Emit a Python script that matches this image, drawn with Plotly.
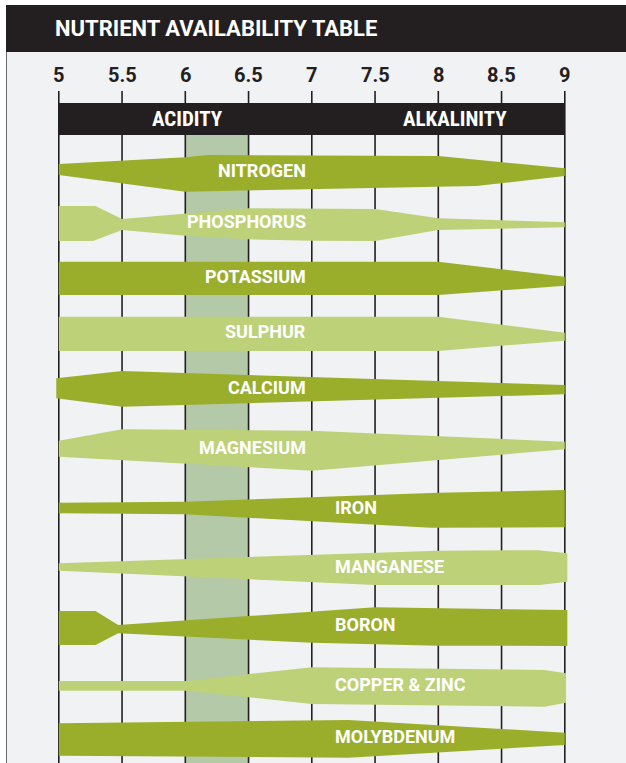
import numpy as np
import plotly.graph_objects as go

# ---------------- data ----------------
TITLE = "NUTRIENT AVAILABILITY TABLE"
PH_TICKS = [5, 5.5, 6, 6.5, 7, 7.5, 8, 8.5, 9]
TICK_LABELS = ["5", "5.5", "6", "6.5", "7", "7.5", "8", "8.5", "9"]
ZONE_LABELS = ["ACIDITY", "ALKALINITY"]
ZONE_LABEL_PH = [6.02, 8.13]
OPTIMAL_RANGE = [6.0, 6.5]

NUTRIENTS = ["NITROGEN", "PHOSPHORUS", "POTASSIUM", "SULPHUR", "CALCIUM",
             "MAGNESIUM", "IRON", "MANGANESE", "BORON", "COPPER & ZINC",
             "MOLYBDENUM"]

# availability profiles: (pH, thickness above / below the row line)
NITROGEN_TOP = [(5.0, 7.5), (6.0, 14.2), (6.18, 16.5), (8.0, 15.5), (9.0, 3.2)]
NITROGEN_BOT = [(5.0, 3.5), (6.0, 20.2), (8.3, 14.5), (9.0, 4.5)]
PHOSPHORUS_TOP = [(5.0, 22.2), (5.29, 22.2), (5.5, 9.2), (6.5, 19.9), (7.5, 19.2), (8.0, 9.9), (9.0, 5.9)]
PHOSPHORUS_BOT = [(5.0, 12.9), (5.27, 12.9), (5.5, 1.9), (6.0, 7.6), (6.5, 11.2), (7.0, 12.6), (7.5, 12.9), (8.0, 1.9), (9.0, -0.9)]
POTASSIUM_TOP = [(5.0, 23.1), (8.0, 23.1), (9.0, 8.1)]
POTASSIUM_BOT = [(5.0, 10.2), (8.0, 10.2), (9.0, 0.9)]
SULPHUR_TOP = [(5.0, 24.8), (8.0, 24.8), (9.0, 8.8)]
SULPHUR_BOT = [(5.0, 9.5), (8.0, 9.5), (9.0, -0.8)]
CALCIUM_TOP = [(4.98, 19.8), (5.5, 27.1), (9.0, 13.1)]
CALCIUM_BOT = [(4.98, 0.2), (5.5, 8.6), (9.0, -3.8)]
MAGNESIUM_TOP = [(5.0, 14.1), (5.5, 25.5), (7.0, 24.1), (9.0, 13.1)]
MAGNESIUM_BOT = [(5.0, 1.9), (7.0, 15.9), (9.0, -5.5)]
IRON_TOP = [(5.0, 8.7), (6.0, 9.7), (8.0, 18.7), (9.0, 21.4)]
IRON_BOT = [(5.0, 1.9), (6.0, 2.9), (7.94, 16.3), (9.0, 15.9)]
MANGANESE_TOP = [(5.0, 4.8), (8.0, 17.4), (8.79, 17.8), (9.02, 14.8)]
MANGANESE_BOT = [(5.0, 2.6), (7.5, 16.9), (8.8, 16.9), (9.02, 13.6)]
BORON_TOP = [(5.0, 13.7), (5.29, 13.7), (5.47, -0.3), (7.5, 17.4), (9.02, 14.7)]
BORON_BOT = [(5.0, 20.3), (5.29, 20.3), (5.47, 8.6), (7.0, 18.1), (8.0, 21.0), (9.02, 21.3)]
COPPER_ZINC_TOP = [(5.0, 0.4), (6.0, 0.4), (7.0, 14.1), (8.84, 11.4), (9.01, 8.1)]
COPPER_ZINC_BOT = [(5.0, 9.3), (6.0, 9.3), (7.0, 22.6), (8.84, 25.3), (9.01, 21.3)]
MOLYBDENUM_TOP = [(5.0, 14.7), (7.29, 18.0), (9.0, 5.3)]
MOLYBDENUM_BOT = [(5.0, 17.7), (7.29, 19.7), (9.0, 7.0)]

PROFILES = [
    (NITROGEN_TOP, NITROGEN_BOT), (PHOSPHORUS_TOP, PHOSPHORUS_BOT),
    (POTASSIUM_TOP, POTASSIUM_BOT), (SULPHUR_TOP, SULPHUR_BOT),
    (CALCIUM_TOP, CALCIUM_BOT), (MAGNESIUM_TOP, MAGNESIUM_BOT),
    (IRON_TOP, IRON_BOT), (MANGANESE_TOP, MANGANESE_BOT),
    (BORON_TOP, BORON_BOT), (COPPER_ZINC_TOP, COPPER_ZINC_BOT),
    (MOLYBDENUM_TOP, MOLYBDENUM_BOT),
]

# ---------------- style / layout ----------------
W, H = 626, 763
DARK = "#9aae2c"
LIGHT = "#bdd178"
BAND = "#b3c9a7"
INK = "#231f20"
PANEL = "#f1f2f4"
FONT = "Roboto, Liberation Sans, Arial, sans-serif"
NARROW = "Roboto Condensed, Liberation Sans Narrow, Arial Narrow, Roboto, sans-serif"

PX_PER_PH = 126.5
X0_PX = 58.8
ROW_PX = 56.65
ROW0_PX = 171.5
x_range = [5 - X0_PX / PX_PER_PH, 5 + (W - X0_PX) / PX_PER_PH]
y_range = [(H - ROW0_PX) / ROW_PX, -ROW0_PX / ROW_PX]


def py(px):
    """pixel row from top -> paper y"""
    return 1 - px / H


def px_x(px):
    return px / W


fig = go.Figure()

for i, (name, (top, bot)) in enumerate(zip(NUTRIENTS, PROFILES)):
    tph = [p for p, _ in top]
    tv = [i - v / ROW_PX for _, v in top]
    bph = [p for p, _ in bot]
    bv = [i + v / ROW_PX for _, v in bot]
    xs = tph + bph[::-1]
    ys = tv + bv[::-1]
    color = DARK if i % 2 == 0 else LIGHT
    fig.add_trace(go.Scatter(
        x=xs, y=ys, mode="lines", fill="toself", fillcolor=color,
        line=dict(width=0, color=color), hoverinfo="skip", showlegend=False))
    # label
    if i < 6:
        lx, anchor, probe = 6.97, "right", 6.6
    else:
        lx, anchor, probe = 7.17, "left", 7.6
    yt = np.interp(probe, tph, tv)
    yb = np.interp(probe, bph, bv)
    fig.add_annotation(
        x=lx, y=(yt + yb) / 2, xref="x", yref="y", text=name, showarrow=False,
        xanchor=anchor, yanchor="middle", yshift=2,
        font=dict(family=FONT, size=18, color="white", weight="bold"))

shapes = []
# title bar and panel
shapes.append(dict(type="rect", xref="paper", yref="paper",
                   x0=px_x(6), x1=1, y0=py(763), y1=py(52),
                   fillcolor=PANEL, line=dict(width=0), layer="below"))
shapes.append(dict(type="line", xref="paper", yref="paper",
                   x0=px_x(6.5), x1=px_x(6.5), y0=0, y1=py(52),
                   line=dict(color="#6b6b6b", width=1), layer="below"))
shapes.append(dict(type="rect", xref="paper", yref="paper",
                   x0=px_x(6), x1=1, y0=py(52), y1=py(5),
                   fillcolor=INK, line=dict(width=0), layer="below"))
# optimum band
shapes.append(dict(type="rect", xref="x", yref="paper",
                   x0=OPTIMAL_RANGE[0], x1=OPTIMAL_RANGE[1], y0=0, y1=py(135),
                   fillcolor=BAND, line=dict(width=0), layer="below"))
# grid lines
for t in PH_TICKS:
    shapes.append(dict(type="line", xref="x", yref="paper",
                       x0=t, x1=t, y0=0, y1=py(91),
                       line=dict(color=INK, width=1.6), layer="below"))
# header bar
shapes.append(dict(type="rect", xref="x", yref="paper",
                   x0=PH_TICKS[0], x1=PH_TICKS[-1], y0=py(135), y1=py(103),
                   fillcolor=INK, line=dict(width=0), layer="below"))

# texts
fig.add_annotation(x=px_x(53), y=py(28), xref="paper", yref="paper",
                   text=TITLE, showarrow=False, xanchor="left", yanchor="middle",
                   font=dict(family=FONT, size=22, color="white", weight="bold"))
for t, lab in zip(PH_TICKS, TICK_LABELS):
    fig.add_annotation(x=t, y=py(75), xref="x", yref="paper", text=lab,
                       showarrow=False, xanchor="center", yanchor="middle",
                       font=dict(family=FONT, size=20, color=INK, weight="bold"))
for lab, p in zip(ZONE_LABELS, ZONE_LABEL_PH):
    fig.add_annotation(x=p, y=py(119.3), xref="x", yref="paper", text=lab,
                       showarrow=False, xanchor="center", yanchor="middle",
                       font=dict(family=NARROW, size=21, color="white", weight="bold"))

fig.update_layout(
    width=W, height=H, margin=dict(l=0, r=0, t=0, b=0),
    paper_bgcolor="white", plot_bgcolor="rgba(0,0,0,0)",
    shapes=shapes,
    xaxis=dict(range=x_range, visible=False, fixedrange=True),
    yaxis=dict(range=y_range, visible=False, fixedrange=True),
    showlegend=False,
)

fig.write_html("out.html", config={"displayModeBar": False},
               post_script="document.body.style.margin='0';")
